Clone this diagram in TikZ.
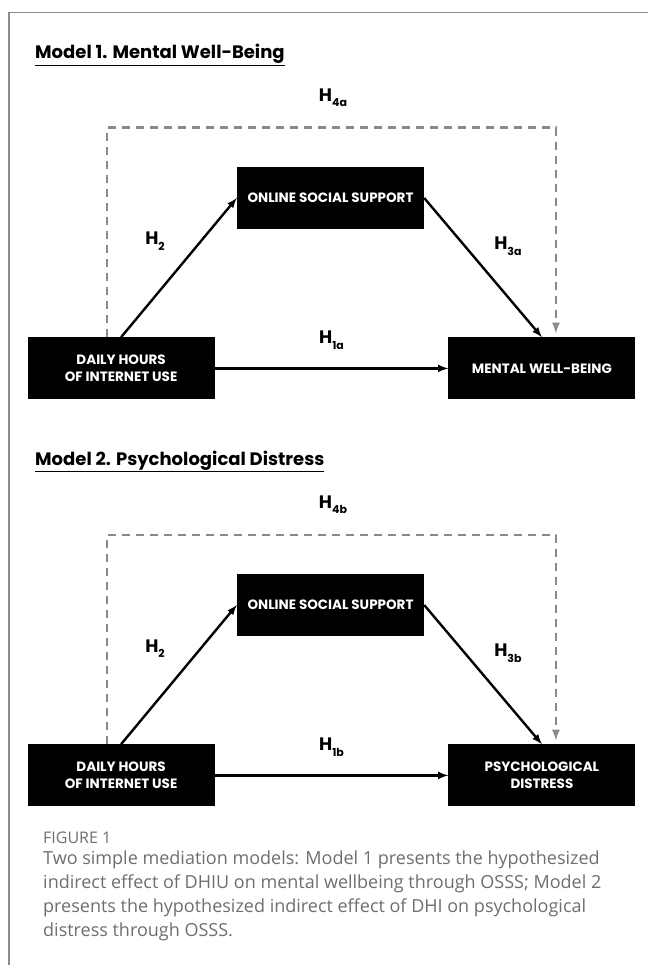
\documentclass[tikz,border=0pt]{standalone}
\usepackage{fontspec}
\setmainfont{Poppins}
\newfontfamily\capfont{Open Sans}
\usepackage{xcolor}
\usetikzlibrary{positioning}
\definecolor{dashgray}{HTML}{8A8A8A}
\definecolor{capgray}{HTML}{6E6E6E}
\definecolor{framegray}{HTML}{8C8C8C}
\tikzset{%
  varbox/.style={rectangle, fill=black, text=white, minimum width=187pt, minimum height=62pt, inner sep=0pt, align=center, font=\fontsize{13.5}{17}\selectfont\bfseries},
  effect/.style={-latex, line width=2.4pt},
  indirect/.style={-latex, draw=dashgray, line width=2.6pt, dash pattern=on 8pt off 6pt, shorten >=4pt},
  hyp/.style={inner sep=0pt, font=\fontsize{18}{20}\selectfont\bfseries},
  modeltitle/.style={anchor=base west, inner sep=0pt, font=\fontsize{18}{20}\selectfont\bfseries},
}
\newcommand{\hyplabel}[1]{H\raisebox{-0.3em}{\fontsize{11}{12}\selectfont #1}}

\begin{document}
\begin{tikzpicture}[x=1pt, y=-1pt]
    \useasboundingbox (0,0) rectangle (648,965);
    \draw[framegray, line width=1.5pt] (648,12.5) -- (9,12.5) -- (9,965);

    % Model 1
    %Nodes
    \node[modeltitle] (title1) at (35,59) {\underline{Model 1. Mental Well-Being}};
    \node[varbox] (oss1) at (330.5,198) {ONLINE SOCIAL SUPPORT};
    \node[varbox] (dhiu1) [below left=108pt and 22pt of oss1] {DAILY HOURS\\OF INTERNET USE};
    \node[varbox] (mwb1) [below right=108pt and 24pt of oss1] {MENTAL WELL-BEING};
    \node[hyp] (h4a) at (333,98) {\hyplabel{4a}};

    %Lines
    \draw[indirect] ([xshift=-14pt]dhiu1.north) |- ([yshift=39pt]oss1.north) -| ([xshift=14pt]mwb1.north);
    \draw[effect] (dhiu1.north) -- node[hyp, midway, above left=16pt and 13pt]{\hyplabel{2}} (oss1.west);
    \draw[effect] (oss1.east) -- node[hyp, midway, above right=11pt and 10pt]{\hyplabel{3a}} (mwb1.north);
    \draw[effect] (dhiu1) -- node[hyp, midway, above=18pt]{\hyplabel{1a}} (mwb1);

    % Model 2
    %Nodes
    \node[modeltitle] (title2) at (35,465) {\underline{Model 2. Psychological Distress}};
    \node[varbox] (oss2) at (330.5,605) {ONLINE SOCIAL SUPPORT};
    \node[varbox] (dhiu2) [below left=108pt and 22pt of oss2] {DAILY HOURS\\OF INTERNET USE};
    \node[varbox] (pd2) [below right=108pt and 24pt of oss2] {PSYCHOLOGICAL\\DISTRESS};
    \node[hyp] (h4b) at (333,505) {\hyplabel{4b}};

    %Lines
    \draw[indirect] ([xshift=-14pt]dhiu2.north) |- ([yshift=39pt]oss2.north) -| ([xshift=14pt]pd2.north);
    \draw[effect] (dhiu2.north) -- node[hyp, midway, above left=16pt and 13pt]{\hyplabel{2}} (oss2.west);
    \draw[effect] (oss2.east) -- node[hyp, midway, above right=11pt and 10pt]{\hyplabel{3b}} (pd2.north);
    \draw[effect] (dhiu2) -- node[hyp, midway, above=18pt]{\hyplabel{1b}} (pd2);

    % Caption
    \node[anchor=base west, inner sep=0pt, text=capgray, font=\capfont\fontsize{16}{18}\selectfont] (figlabel) at (43,843) {FIGURE 1};
    \node[anchor=north west, inner sep=0pt, align=left, text=capgray, font=\capfont\fontsize{18}{24}\selectfont] (caption) at (43,851)
      {Two simple mediation models: Model 1 presents the hypothesized\\
       indirect effect of DHIU on mental wellbeing through OSSS; Model 2\\
       presents the hypothesized indirect effect of DHI on psychological\\
       distress through OSSS.};
\end{tikzpicture}
\end{document}
